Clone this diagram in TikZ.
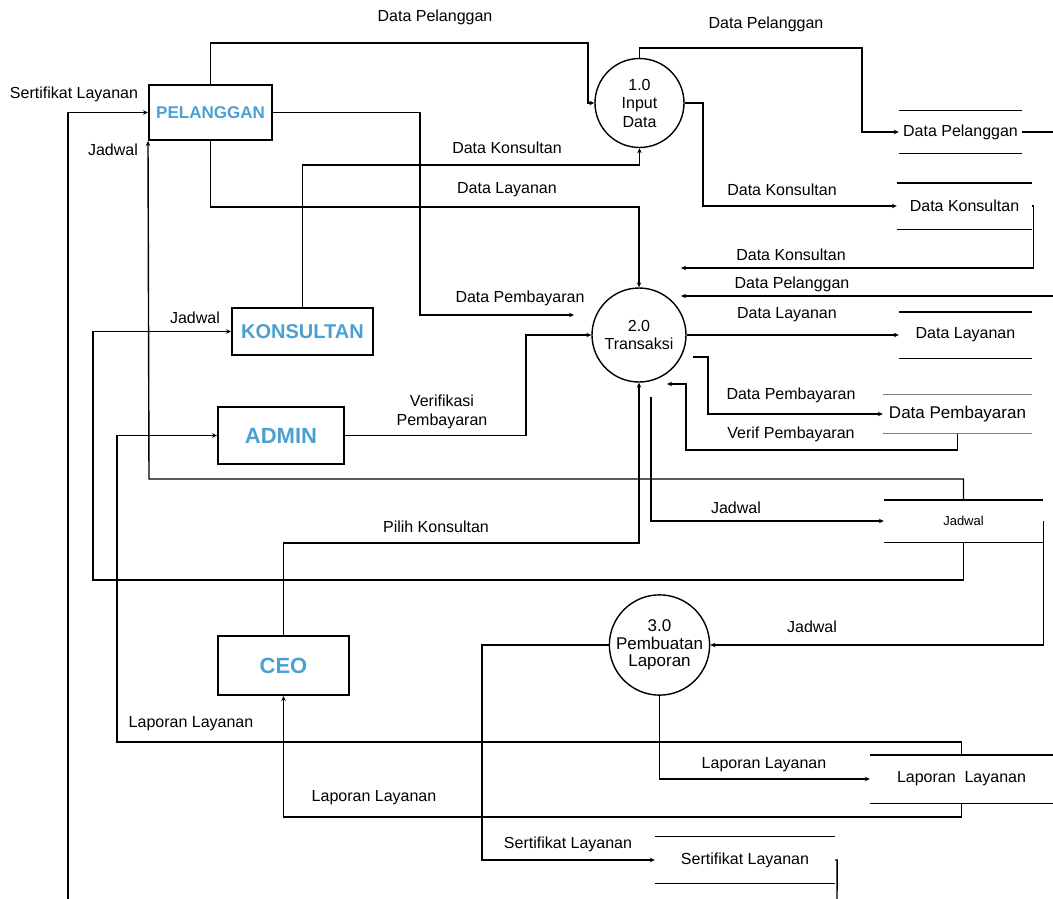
\documentclass[tikz,border=0pt]{standalone}
\usepackage{fontspec}
\setmainfont{Liberation Sans}
\usetikzlibrary{arrows.meta}
\definecolor{entblue}{RGB}{75,160,210}

\begin{document}
\begin{tikzpicture}[x=1pt, y=-1pt,
  flow/.style={line width=1.4pt, -{Stealth[length=5pt,width=4.5pt]}},
  line/.style={line width=1.4pt},
  ent/.style={draw, line width=2pt, inner sep=0pt, text=entblue},
  proc/.style={circle, draw, line width=1.4pt, inner sep=0pt, align=center, font=\fontsize{16}{18.5}\selectfont},
  store/.style={inner sep=0pt, font=\fontsize{16}{19}\selectfont},
  lbl/.style={inner sep=0pt, font=\fontsize{16}{19}\selectfont}]
  \useasboundingbox (0,0) rectangle (1053,899);

  % entities
  \node[ent, minimum width=123pt, minimum height=55pt, font=\fontsize{17}{20}\bfseries] (pel) at (210.5,112.5) {PELANGGAN};
  \node[ent, minimum width=141pt, minimum height=47pt, font=\fontsize{20}{24}\bfseries] (kons) at (302.5,331.5) {KONSULTAN};
  \node[ent, minimum width=126pt, minimum height=57pt, font=\fontsize{22}{26}\bfseries] (admin) at (281,435.5) {ADMIN};
  \node[ent, minimum width=131pt, minimum height=59pt, font=\fontsize{22}{26}\bfseries] (ceo) at (283.5,665.5) {CEO};

  % processes
  \node[proc, minimum size=89pt] (p1) at (639.5,103) {1.0\\Input\\Data};
  \node[proc, minimum size=94pt] (p2) at (639,335) {2.0\\Transaksi};
  \node[proc, minimum size=95pt, font=\fontsize{17}{17.5}\selectfont] (p3) at (659.5,645) {3.0\\Pembuatan\\Laporan};

  % data stores
  \node[store, minimum width=123pt, minimum height=42pt] (dsPel) at (960.5,132) {Data Pelanggan};
  \node[store, minimum width=135pt, minimum height=46pt] (dsKons) at (964.5,206) {Data Konsultan};
  \node[store, minimum width=133pt, minimum height=46pt] (dsLay) at (965.5,335) {Data Layanan};
  \node[store, minimum width=149pt, minimum height=39pt, font=\fontsize{17}{20}\selectfont] (dsBayar) at (957.5,414) {Data Pembayaran};
  \node[store, minimum width=159pt, minimum height=42pt, font=\fontsize{13}{16}\selectfont] (dsJad) at (963.5,521) {Jadwal};
  \node[store, minimum width=183pt, minimum height=48pt] (dsLap) at (961.5,779) {Laporan\ \ Layanan};
  \node[store, minimum width=180pt, minimum height=47pt] (dsSert) at (745,860) {Sertifikat Layanan};
  \foreach \s in {dsPel,dsKons,dsLay,dsJad,dsLap,dsSert}
    \draw[line] (\s.north west) -- (\s.north east) (\s.south west) -- (\s.south east);
  \draw[gray, line width=0.9pt] (dsBayar.north west) -- (dsBayar.north east) (dsBayar.south west) -- (dsBayar.south east);

  % free ends
  \coordinate (kEnd) at (681,268);
  \coordinate (pEnd) at (681,296);
  \coordinate (pRight) at (1053,296);
  \coordinate (pelOut) at (1053,132);
  \coordinate (bayarEnd) at (574,315);
  \coordinate (verifEnd) at (667,384);
  \coordinate (bayarStart) at (693,357);
  \coordinate (jadStart) at (651,397);
  \coordinate (sertBottom) at (837,899);
  \coordinate (sertIn) at (68,899);

  % flows
  \draw[flow] (pel.north) |- (588,43) |- (p1.west);
  \draw[flow] (p1.north) |- (862,48) |- (dsPel.west);
  \draw[line] (dsPel.east) -- (pelOut);
  \draw[flow] (p1.east) -| (703,206) -- (dsKons.west);
  \draw[flow] (dsKons.east) -- ++(1,0) |- (kEnd);
  \draw[flow] (pRight) -- (pEnd);
  \draw[flow] (pel.east) -| (420,315) -- (bayarEnd);
  \draw[flow] (pel.south) |- (639,207) -- (p2.north);
  \draw[flow] (kons.north) |- (639.5,165) -- (p1.south);
  \draw[flow] (admin.east) -| (526,335) -- (p2.west);
  \draw[flow] (ceo.north) |- (639,543) -- (p2.south);
  \draw[flow] (p2.east) -- (dsLay.west);
  \draw[flow] (bayarStart) -| (708,414) -- (dsBayar.west);
  \draw[flow] (dsBayar.south) |- (686,450) |- (verifEnd);
  \draw[flow] (jadStart) |- (dsJad.west);
  \draw[flow] (dsJad.north) |- (149,479) -- (pel.south west);
  \draw[flow] (dsJad.south) |- (93,580) |- (kons.west);
  \draw[flow] (dsJad.east) |- (p3.east);
  \draw[flow] (p3.south) |- (dsLap.west);
  \draw[flow] (dsLap.north) |- (117,742) |- (admin.west);
  \draw[flow] (dsLap.south) |- (283.5,817) -- (ceo.south);
  \draw[flow] (p3.west) -| (482,860) -- (dsSert.west);
  \draw[line] (dsSert.east) -- ++(2,0) -- (sertBottom);
  \draw[flow] (sertIn) |- (pel.west);

  % labels
  \node[lbl] (tPel1) at (435,17) {Data Pelanggan};
  \node[lbl] (tPel2) at (766,24) {Data Pelanggan};
  \node[lbl] (tKons1) at (782,190) {Data Konsultan};
  \node[lbl] (tKons2) at (791,255) {Data Konsultan};
  \node[lbl] (tPel3) at (792,284) {Data Pelanggan};
  \node[lbl] (tBayar1) at (520,298) {Data Pembayaran};
  \node[lbl] (tLay1) at (507,190) {Data Layanan};
  \node[lbl] (tKons3) at (507,148) {Data Konsultan};
  \node[lbl, align=center] (tVerif1) at (442,412) {Verifikasi\\Pembayaran};
  \node[lbl] (tPilih) at (436,527) {Pilih Konsultan};
  \node[lbl] (tLay2) at (787,315) {Data Layanan};
  \node[lbl] (tBayar2) at (791,395) {Data Pembayaran};
  \node[lbl] (tVerif2) at (791,434) {Verif Pembayaran};
  \node[lbl] (tJad1) at (736,508) {Jadwal};
  \node[lbl] (tJad2) at (113,150) {Jadwal};
  \node[lbl] (tJad3) at (195,318) {Jadwal};
  \node[lbl] (tJad4) at (812,627) {Jadwal};
  \node[lbl] (tLap1) at (764,765) {Laporan Layanan};
  \node[lbl] (tLap2) at (191,724) {Laporan Layanan};
  \node[lbl] (tLap3) at (374,798) {Laporan Layanan};
  \node[lbl] (tSert1) at (568,844) {Sertifikat Layanan};
  \node[lbl] (tSert2) at (74,94) {Sertifikat Layanan};
\end{tikzpicture}
\end{document}
